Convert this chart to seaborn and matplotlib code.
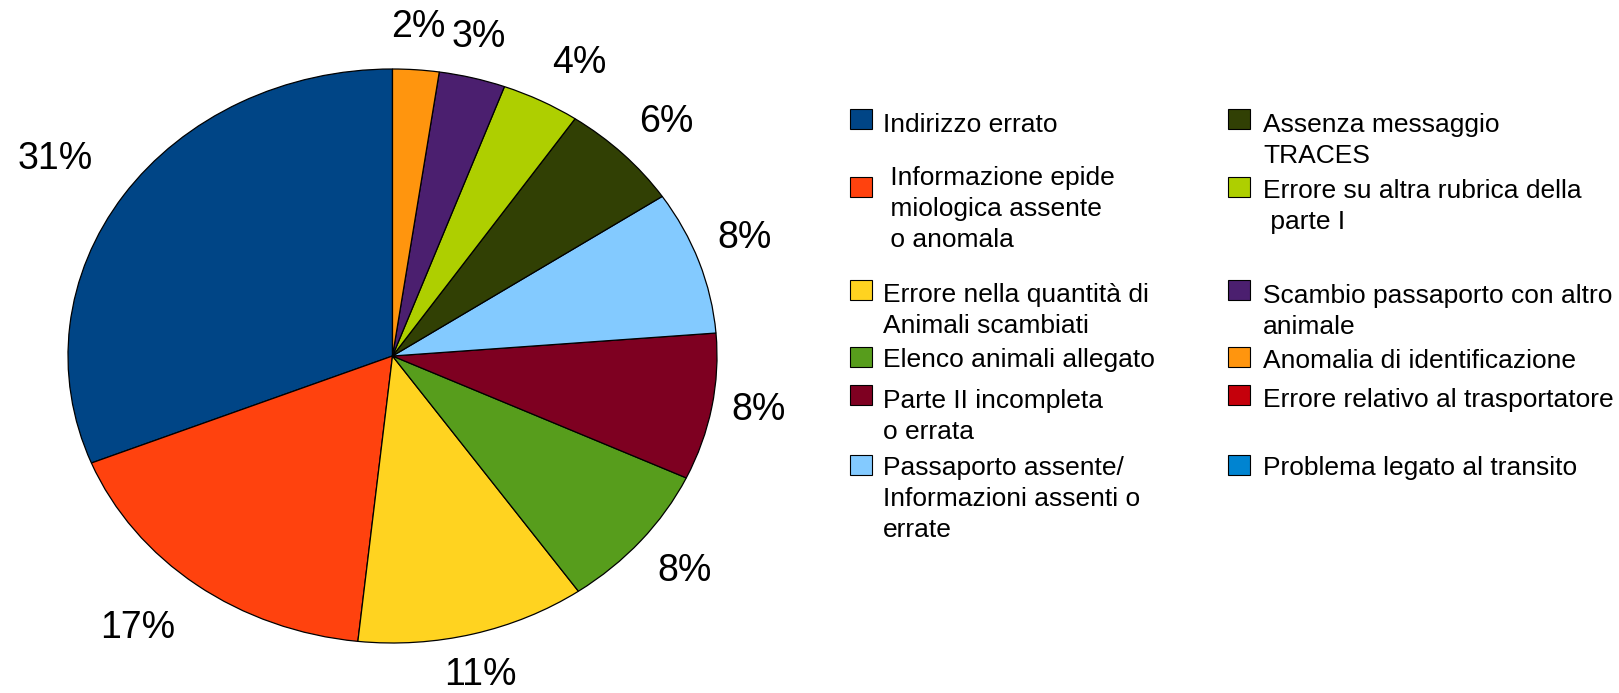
import matplotlib
matplotlib.use("Agg")
import matplotlib.pyplot as plt
import seaborn as sns
from matplotlib.patches import Rectangle

# ---- data ----
categories = [
    "Indirizzo errato",
    "Informazione epidemiologica assente o anomala",
    "Errore nella quantità di Animali scambiati",
    "Elenco animali allegato",
    "Parte II incompleta o errata",
    "Passaporto assente/Informazioni assenti o errate",
    "Assenza messaggio TRACES",
    "Errore su altra rubrica della parte I",
    "Scambio passaporto con altro animale",
    "Anomalia di identificazione",
    "Errore relativo al trasportatore",
    "Problema legato al transito",
]
legend_labels = [
    "Indirizzo errato",
    " Informazione epide\n miologica assente\n o anomala",
    "Errore nella quantità di\nAnimali scambiati",
    "Elenco animali allegato",
    "Parte II incompleta\no errata",
    "Passaporto assente/\nInformazioni assenti o\nerrate",
    "Assenza messaggio\nTRACES",
    "Errore su altra rubrica della\n parte I",
    "Scambio passaporto con altro\nanimale",
    "Anomalia di identificazione",
    "Errore relativo al trasportatore",
    "Problema legato al transito",
]
shares = [31.05, 17.2, 11.4, 8.3, 8.25, 8.1, 6.1, 3.9, 3.3, 2.3, 0.0, 0.0]
colors = ["#004586", "#ff420e", "#ffd320", "#579d1c", "#7e0021", "#83caff",
          "#314004", "#aecf00", "#4b1f6f", "#ff950e", "#c5000b", "#0084d1"]

# ---- style ----
sns.set_theme(style="white")
plt.rcParams['font.family'] = ['Liberation Sans', 'DejaVu Sans']

W, H = 1619, 693
fig = plt.figure(figsize=(W / 100, H / 100), dpi=100)
fig.patch.set_facecolor("white")

# pie area (ellipse box in pixels)
px0, px1, py_top, py_bot = 68, 717, 69, 643
ax = fig.add_axes([px0 / W, (H - py_bot) / H, (px1 - px0) / W, (py_bot - py_top) / H])

vals = [v for v in shares if v > 0]
cols = [c for v, c in zip(shares, colors) if v > 0]
labels = [f"{v:.0f}%" for v in vals]

base_dist = 1.09
wedges, texts = ax.pie(
    vals, colors=cols, labels=labels, startangle=90, counterclock=True,
    labeldistance=base_dist,
    wedgeprops=dict(edgecolor="black", linewidth=0.9),
    textprops=dict(fontsize=27, color="black"),
)
ax.set_aspect("auto")
ax.set_xlim(-1, 1)
ax.set_ylim(-1, 1)
ax.axis("off")

for t in texts:
    x, y = t.get_position()
    ux, uy = x / base_dist, y / base_dist
    r = base_dist - 0.03 * ux
    t.set_position((ux * r, uy * r))
    t.set_ha("left" if ux > 0.3 else ("right" if ux < -0.3 else "center"))
    t.set_va("bottom" if uy > 0.3 else ("top" if uy < -0.3 else "center"))

# ---- legend (manual two-column layout) ----
col_x_sq = [850, 1228]
col_x_txt = [883, 1263]
sq_tops = [[109, 177, 280, 347, 385, 455], [109, 177, 280, 347, 385, 455]]
baselines = [[132, 185, 302, 367, 408, 475], [132, 198, 303, 368, 407, 475]]
line_step = 31
sq_w, sq_h = 22, 20

for i, (lab, c) in enumerate(zip(legend_labels, colors)):
    col = i // 6
    row = i % 6
    top = sq_tops[col][row]
    fig.add_artist(Rectangle((col_x_sq[col] / W, 1 - (top + sq_h) / H), sq_w / W, sq_h / H,
                             transform=fig.transFigure, facecolor=c,
                             edgecolor="black", linewidth=0.8))
    for k, line in enumerate(lab.split("\n")):
        yb = baselines[col][row] + k * line_step
        fig.text(col_x_txt[col] / W, 1 - yb / H, line, fontsize=19,
                 ha="left", va="baseline", color="black")

fig.savefig("out.png", dpi=100, facecolor="white")
